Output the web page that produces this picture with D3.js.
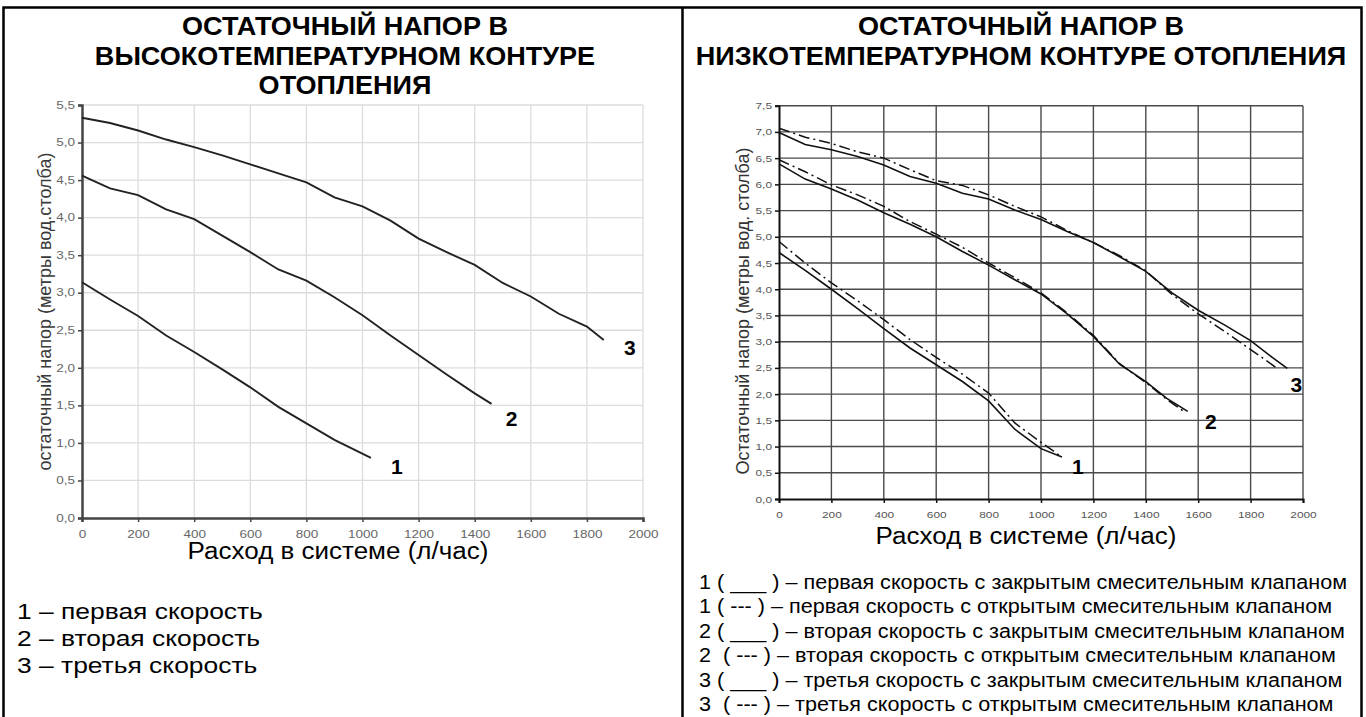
<!DOCTYPE html>
<html>
<head>
<meta charset="utf-8">
<script src="https://cdn.jsdelivr.net/npm/d3@7"></script>
<style>
  body { margin: 0; background: #fff; }
  svg { display: block; font-family: "Liberation Sans", Arial, sans-serif; }
</style>
</head>
<body>
<svg id="chart" width="1366" height="717"></svg>
<script>
// --- data ---
var flowTicks = [0, 200, 400, 600, 800, 1000, 1200, 1400, 1600, 1800, 2000];
var hiHeadTicks = [0, 0.5, 1, 1.5, 2, 2.5, 3, 3.5, 4, 4.5, 5, 5.5];
var loHeadTicks = [0, 0.5, 1, 1.5, 2, 2.5, 3, 3.5, 4, 4.5, 5, 5.5, 6, 6.5, 7, 7.5];

// high temperature circuit
var hiSpeed1 = [[0,3.14],[100,2.91],[200,2.69],[300,2.43],[400,2.21],[500,1.98],[600,1.74],[700,1.48],[800,1.26],[900,1.04],[1030,0.80]];
var hiSpeed2 = [[0,4.56],[100,4.39],[200,4.30],[300,4.11],[400,3.98],[500,3.76],[600,3.54],[700,3.31],[800,3.16],[900,2.94],[1000,2.70],[1100,2.43],[1200,2.17],[1300,1.91],[1400,1.66],[1460,1.52]];
var hiSpeed3 = [[0,5.33],[100,5.26],[200,5.16],[300,5.04],[400,4.94],[500,4.83],[600,4.71],[700,4.59],[800,4.47],[900,4.27],[1000,4.15],[1100,3.96],[1200,3.72],[1300,3.54],[1400,3.37],[1500,3.13],[1600,2.95],[1700,2.72],[1800,2.55],[1860,2.37]];

// low temperature circuit, closed (solid) and open (dash-dot) mixing valve
var loSpeed1Closed = [[0,4.70],[100,4.36],[200,4.00],[300,3.63],[400,3.25],[500,2.88],[600,2.56],[700,2.24],[800,1.87],[900,1.33],[1000,0.96],[1080,0.80]];
var loSpeed1Open = [[0,4.91],[100,4.50],[200,4.12],[300,3.78],[400,3.42],[500,3.04],[600,2.70],[700,2.38],[800,2.02],[900,1.45],[1000,1.08],[1080,0.80]];
var loSpeed2Closed = [[0,6.39],[100,6.10],[200,5.91],[300,5.70],[400,5.46],[500,5.24],[600,5.00],[700,4.72],[800,4.46],[900,4.18],[1000,3.91],[1100,3.53],[1200,3.10],[1300,2.57],[1400,2.24],[1480,1.92],[1560,1.67]];
var loSpeed2Open = [[0,6.47],[100,6.24],[200,5.99],[300,5.80],[400,5.58],[500,5.29],[600,5.05],[700,4.80],[800,4.50],[900,4.22],[1000,3.93],[1100,3.55],[1200,3.12],[1300,2.58],[1400,2.22],[1480,1.90],[1545,1.67]];
var loSpeed3Closed = [[0,6.99],[100,6.76],[200,6.66],[300,6.53],[400,6.37],[500,6.15],[600,6.02],[700,5.83],[800,5.72],[900,5.51],[1000,5.33],[1100,5.10],[1200,4.89],[1300,4.62],[1400,4.34],[1500,3.93],[1600,3.60],[1700,3.32],[1800,3.02],[1880,2.71],[1940,2.49]];
var loSpeed3Open = [[0,7.07],[100,6.90],[200,6.78],[300,6.62],[400,6.50],[500,6.28],[600,6.07],[700,5.98],[800,5.80],[900,5.58],[1000,5.38],[1100,5.12],[1200,4.89],[1300,4.64],[1400,4.35],[1500,3.90],[1600,3.53],[1700,3.20],[1800,2.85],[1905,2.48]];

var hiTitle = ["ОСТАТОЧНЫЙ НАПОР В", "ВЫСОКОТЕМПЕРАТУРНОМ КОНТУРЕ", "ОТОПЛЕНИЯ"];
var loTitle = ["ОСТАТОЧНЫЙ НАПОР В", "НИЗКОТЕМПЕРАТУРНОМ КОНТУРЕ ОТОПЛЕНИЯ"];
var hiLegend = ["1 – первая скорость", "2 – вторая скорость", "3 – третья скорость"];
var loLegend = [
  "1 ( ___ ) – первая скорость с закрытым смесительным клапаном",
  "1 ( --- ) – первая скорость с открытым смесительным клапаном",
  "2 ( ___ ) – вторая скорость с закрытым смесительным клапаном",
  "2  ( --- ) – вторая скорость с открытым смесительным клапаном",
  "3 ( ___ ) – третья скорость с закрытым смесительным клапаном",
  "3  ( --- ) – третья скорость с открытым смесительным клапаном"
];

var svg = d3.select("#chart");
var fmt = function(d) { return d3.format(".1f")(d).replace(".", ","); };

// stretch text sideways, the scan is wider than tall
function widen(sel, k) {
  sel.each(function() {
    var w = this.getComputedTextLength();
    d3.select(this).attr("textLength", w * k).attr("lengthAdjust", "spacingAndGlyphs");
  });
}

// frame and divider
svg.append("rect").attr("x", 3.5).attr("y", 7.5).attr("width", 1358).attr("height", 720)
  .attr("fill", "none").attr("stroke", "#000").attr("stroke-width", 2.5);
svg.append("line").attr("x1", 682.5).attr("x2", 682.5).attr("y1", 7).attr("y2", 717)
  .attr("stroke", "#000").attr("stroke-width", 2.5);

// titles
svg.selectAll(".hiTitle").data(hiTitle).enter().append("text")
  .attr("x", 345).attr("y", function(d, i) { return 35 + i * 29.5; })
  .attr("text-anchor", "middle").attr("font-weight", "bold").attr("font-size", 26)
  .text(function(d) { return d; })
  .call(widen, 1.04);
svg.selectAll(".loTitle").data(loTitle).enter().append("text")
  .attr("x", 1021).attr("y", function(d, i) { return 35 + i * 30; })
  .attr("text-anchor", "middle").attr("font-weight", "bold").attr("font-size", 26)
  .text(function(d) { return d; })
  .call(widen, 1.04);

// ---------- left chart ----------
var xHi = d3.scaleLinear().domain([0, 2000]).range([82, 643]);
var yHi = d3.scaleLinear().domain([0, 5.5]).range([518, 105]);
var gHi = svg.append("g");

gHi.append("g").selectAll("line").data(hiHeadTicks.slice(1)).enter().append("line")
  .attr("x1", xHi(0)).attr("x2", xHi(2000))
  .attr("y1", function(d) { return yHi(d); }).attr("y2", function(d) { return yHi(d); })
  .attr("stroke", "#dcdcdc").attr("stroke-width", 1.3);
gHi.append("g").selectAll("line").data(flowTicks.slice(1)).enter().append("line")
  .attr("x1", function(d) { return xHi(d); }).attr("x2", function(d) { return xHi(d); })
  .attr("y1", yHi(0)).attr("y2", yHi(5.5))
  .attr("stroke", "#dcdcdc").attr("stroke-width", 1.3);

var hiYAxis = gHi.append("g").attr("transform", "translate(" + xHi(0) + ",0)")
  .call(d3.axisLeft(yHi).tickValues(hiHeadTicks).tickFormat(fmt).tickSize(4).tickPadding(3));
var hiXAxis = gHi.append("g").attr("transform", "translate(0," + yHi(0) + ")")
  .call(d3.axisBottom(xHi).tickValues(flowTicks).tickFormat(d3.format("d")).tickSize(4).tickPadding(9));
[hiYAxis, hiXAxis].forEach(function(ax) {
  ax.select(".domain").attr("stroke", "#444").attr("stroke-width", 2.5);
  ax.selectAll(".tick line").attr("stroke", "#444").attr("stroke-width", 1.5);
  ax.selectAll(".tick text").attr("fill", "#666").attr("font-size", 10)
    .attr("font-family", "\"Liberation Sans\", Arial, sans-serif")
    .call(widen, 1.35);
});

var lineHi = d3.line().x(function(d) { return xHi(d[0]); }).y(function(d) { return yHi(d[1]); });
var hiCurves = [hiSpeed1, hiSpeed2, hiSpeed3];
var hiLabelOff = [[26, 16], [20, 22], [26, 15]];
gHi.selectAll(".curve").data(hiCurves).enter().append("path")
  .attr("d", lineHi).attr("fill", "none").attr("stroke", "#222").attr("stroke-width", 1.9);
gHi.selectAll(".clabel").data(hiCurves).enter().append("text")
  .attr("x", function(d, i) { return xHi(d[d.length - 1][0]) + hiLabelOff[i][0]; })
  .attr("y", function(d, i) { return yHi(d[d.length - 1][1]) + hiLabelOff[i][1]; })
  .attr("text-anchor", "middle").attr("font-weight", "bold").attr("font-size", 21)
  .text(function(d, i) { return i + 1; });

svg.append("text").attr("transform", "translate(51," + ((yHi(0) + yHi(5.5)) / 2) + ") rotate(-90)")
  .attr("text-anchor", "middle").attr("font-size", 18).attr("fill", "#3a3a3a")
  .text("остаточный напор (метры вод.столба)");
svg.append("text").attr("x", 338).attr("y", 559).attr("text-anchor", "middle")
  .attr("font-size", 23).text("Расход в системе (л/час)").call(widen, 1.13);
svg.selectAll(".hiLegend").data(hiLegend).enter().append("text")
  .attr("x", 17).attr("y", function(d, i) { return 619 + i * 27; })
  .attr("font-size", 22).text(function(d) { return d; }).call(widen, 1.2);

// ---------- right chart ----------
var xLo = d3.scaleLinear().domain([0, 2000]).range([779, 1303]);
var yLo = d3.scaleLinear().domain([0, 7.5]).range([499, 105.7]);
var gLo = svg.append("g");

gLo.append("g").selectAll("line").data(loHeadTicks.slice(1)).enter().append("line")
  .attr("x1", xLo(0)).attr("x2", xLo(2000))
  .attr("y1", function(d) { return yLo(d); }).attr("y2", function(d) { return yLo(d); })
  .attr("stroke", "#4a4a4a").attr("stroke-width", 1.4);
gLo.append("g").selectAll("line").data(flowTicks.slice(1)).enter().append("line")
  .attr("x1", function(d) { return xLo(d); }).attr("x2", function(d) { return xLo(d); })
  .attr("y1", yLo(0)).attr("y2", yLo(7.5))
  .attr("stroke", "#4a4a4a").attr("stroke-width", 1.4);

var loYAxis = gLo.append("g").attr("transform", "translate(" + xLo(0) + ",0)")
  .call(d3.axisLeft(yLo).tickValues(loHeadTicks).tickFormat(fmt).tickSize(4).tickPadding(3));
var loXAxis = gLo.append("g").attr("transform", "translate(0," + yLo(0) + ")")
  .call(d3.axisBottom(xLo).tickValues(flowTicks).tickFormat(d3.format("d")).tickSize(4).tickPadding(8));
[loYAxis, loXAxis].forEach(function(ax) {
  ax.select(".domain").attr("stroke", "#111").attr("stroke-width", 2);
  ax.selectAll(".tick line").attr("stroke", "#111").attr("stroke-width", 1.5);
  ax.selectAll(".tick text").attr("fill", "#555").attr("font-size", 9.5)
    .attr("font-family", "\"Liberation Sans\", Arial, sans-serif")
    .call(widen, 1.25);
});

var lineLo = d3.line().x(function(d) { return xLo(d[0]); }).y(function(d) { return yLo(d[1]); });
var loOpen = [loSpeed1Open, loSpeed2Open, loSpeed3Open];
var loClosed = [loSpeed1Closed, loSpeed2Closed, loSpeed3Closed];
gLo.selectAll(".open").data(loOpen).enter().append("path")
  .attr("d", lineLo).attr("fill", "none").attr("stroke", "#111").attr("stroke-width", 1.5)
  .attr("stroke-dasharray", "11,4,2,4");
gLo.selectAll(".closed").data(loClosed).enter().append("path")
  .attr("d", lineLo).attr("fill", "none").attr("stroke", "#111").attr("stroke-width", 1.6);
var loLabelOff = [[16, 17], [23, 18], [9, 24]];
gLo.selectAll(".clabel").data(loClosed).enter().append("text")
  .attr("x", function(d, i) { return xLo(d[d.length - 1][0]) + loLabelOff[i][0]; })
  .attr("y", function(d, i) { return yLo(d[d.length - 1][1]) + loLabelOff[i][1]; })
  .attr("text-anchor", "middle").attr("font-weight", "bold").attr("font-size", 21)
  .text(function(d, i) { return i + 1; });

svg.append("text").attr("transform", "translate(749,311) rotate(-90)")
  .attr("text-anchor", "middle").attr("font-size", 18).attr("fill", "#333")
  .text("Остаточный напор (метры вод. столба)");
svg.append("text").attr("x", 1026).attr("y", 544).attr("text-anchor", "middle")
  .attr("font-size", 23).text("Расход в системе (л/час)").call(widen, 1.13);
svg.selectAll(".loLegend").data(loLegend).enter().append("text")
  .attr("x", 699).attr("y", function(d, i) { return 589 + i * 24.4; })
  .attr("font-size", 20).style("white-space", "pre")
  .text(function(d) { return d; }).call(widen, 1.08);
</script>
</body>
</html>
